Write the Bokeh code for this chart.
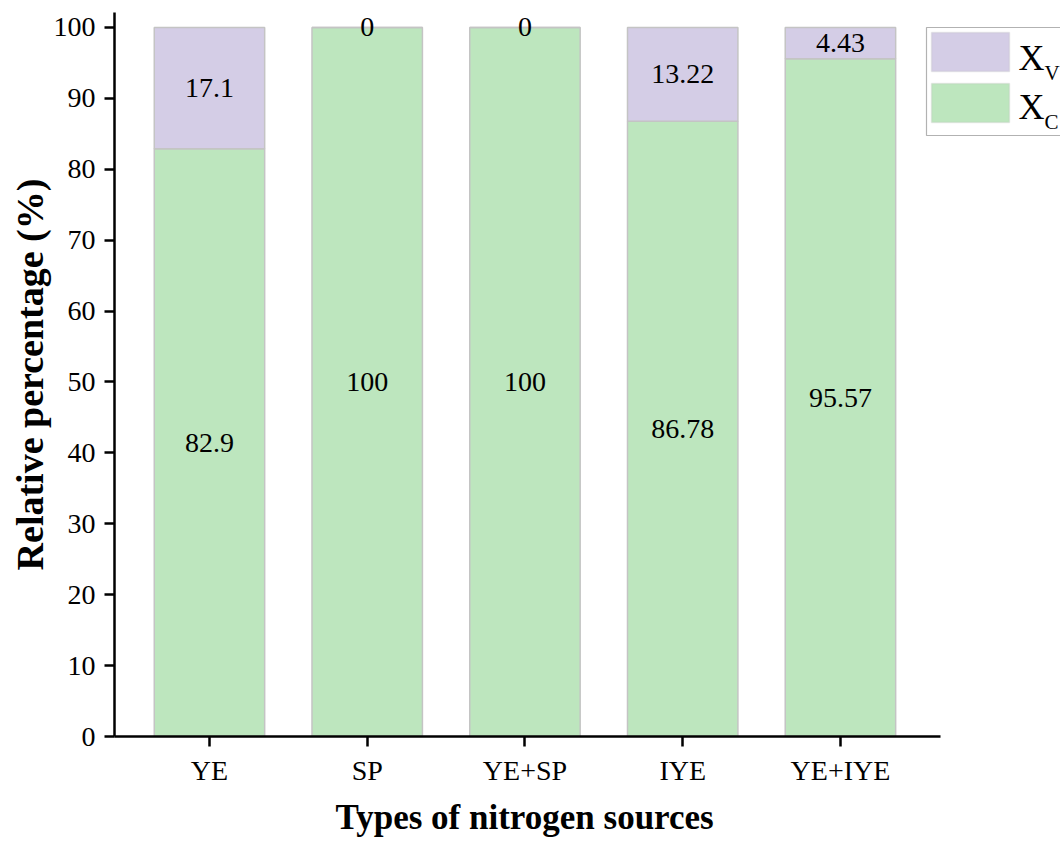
from bokeh.plotting import figure
from bokeh.models import (ColumnDataSource, Range1d, FixedTicker, Label, BoxAnnotation, Title)
from bokeh.core.properties import value
from bokeh.embed import file_html
from bokeh.resources import INLINE

# ---- data ----
categories = ["YE", "SP", "YE+SP", "IYE", "YE+IYE"]
xc_values = [82.9, 100, 100, 86.78, 95.57]
xv_values = [17.1, 0, 0, 13.22, 4.43]
xc_labels = ["82.9", "100", "100", "86.78", "95.57"]
xv_labels = ["17.1", "0", "0", "13.22", "4.43"]
y_ticks = [0, 10, 20, 30, 40, 50, 60, 70, 80, 90, 100]

GREEN = "#BDE6BE"
PURPLE = "#D4CDE6"
EDGE = "#C4C4C4"
FONT = "Liberation Serif"

xs = list(range(1, len(categories) + 1))
src = ColumnDataSource(dict(
    x=xs, xc=xc_values, xv=xv_values,
    xc_mid=[c / 2 for c in xc_values],
    xv_mid=[c + v / 2 for c, v in zip(xc_values, xv_values)],
    xc_lab=xc_labels, xv_lab=xv_labels,
))

p = figure(width=1060, height=844, output_backend="svg", toolbar_location=None,
           x_range=Range1d(0.398, 6.395), y_range=Range1d(0, 102.1),
           min_border_left=114, min_border_right=0, min_border_top=12, min_border_bottom=108)
p.outline_line_color = None
p.xgrid.visible = False
p.ygrid.visible = False

p.vbar_stack(["xc", "xv"], x="x", width=0.7, source=src,
             fill_color=[GREEN, PURPLE], line_color=EDGE, line_width=1.5)

p.text(x="x", y="xc_mid", text="xc_lab", source=src, text_align="center",
       text_baseline="middle", text_font=value(FONT), text_font_size="28px", text_color="black")
p.text(x="x", y="xv_mid", text="xv_lab", source=src, text_align="center",
       text_baseline="middle", text_font=value(FONT), text_font_size="28px", text_color="black")

# axes
p.xaxis.ticker = FixedTicker(ticks=xs)
p.xaxis.major_label_overrides = {x: c for x, c in zip(xs, categories)}
p.xaxis.bounds = (0.398, 5.634)
p.yaxis.ticker = FixedTicker(ticks=y_ticks)
for ax in (p.xaxis, p.yaxis):
    ax.axis_line_width = 2.5
    ax.axis_line_color = "black"
    ax.major_tick_line_width = 2.5
    ax.major_tick_line_color = "black"
    ax.major_tick_out = 10
    ax.major_tick_in = 0
    ax.minor_tick_line_color = None
    ax.major_label_text_font = FONT
    ax.major_label_text_font_size = "28px"
    ax.major_label_text_color = "black"
    ax.axis_label_text_font = FONT
    ax.axis_label_text_font_style = "bold"
    ax.axis_label_text_color = "black"

p.yaxis.axis_label = "Relative percentage (%)"
p.yaxis.axis_label_text_font_size = "38px"
p.xaxis.major_label_standoff = 8
p.yaxis.major_label_standoff = 9
p.yaxis.axis_label_standoff = 0

# x-axis title, centred under the axis line (not the whole frame)
p.add_layout(Title(text="Types of nitrogen sources", align="left", offset=221,
                   text_font=FONT, text_font_style="bold", text_font_size="35px",
                   text_color="black", standoff=15), "below")

# legend (manual, frame-relative screen units)
def sbox(l, r, b, t, **kw):
    return BoxAnnotation(left=l, right=r, bottom=b, top=t,
                         left_units="screen", right_units="screen",
                         bottom_units="screen", top_units="screen", **kw)

p.add_layout(sbox(812, 990, 601, 709, fill_color=None, fill_alpha=0,
                  line_color="black", line_width=1.2))
p.add_layout(sbox(817, 895, 665, 704, fill_color=PURPLE, fill_alpha=1,
                  line_color=EDGE, line_width=1.5))
p.add_layout(sbox(817, 895, 614, 653, fill_color=GREEN, fill_alpha=1,
                  line_color=EDGE, line_width=1.5))
for (yb, ys, sub) in [(679, 664, "V"), (630, 615, "C")]:
    p.add_layout(Label(x=904, y=yb, x_units="screen", y_units="screen", text="X",
                       text_font=FONT, text_font_size="36px", text_baseline="alphabetic",
                       text_align="left", text_color="black"))
    p.add_layout(Label(x=930, y=ys, x_units="screen", y_units="screen", text=sub,
                       text_font=FONT, text_font_size="21px", text_baseline="alphabetic",
                       text_align="left", text_color="black"))

open("out.html", "w").write(file_html(p, INLINE))
